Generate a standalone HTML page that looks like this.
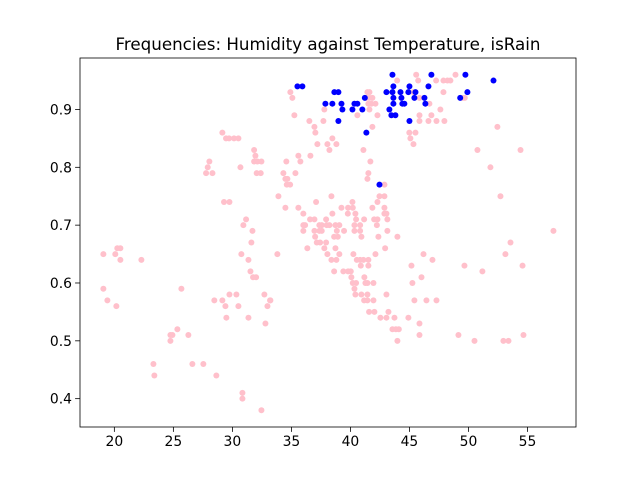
<!DOCTYPE html>
<html><head><meta charset="utf-8"><style>
html,body{margin:0;padding:0;background:#fff;}
svg{display:block;font-family:"DejaVu Sans","Liberation Sans",sans-serif;}
</style></head>
<body>
<svg id="chart" width="640" height="480" viewBox="0 0 640 480">
<rect width="640" height="480" fill="#fff"/>
<text x="328" y="50" font-size="16.7" text-anchor="middle" fill="#000">Frequencies: Humidity against Temperature, isRain</text>
<g id="marks"></g>
<g id="axes"></g>
</svg>
<script>
const pinkX=[29.15,29.46,29.72,30.14,30.51,31.84,31.95,31.84,32.12,32.46,28.05,27.91,27.77,28.31,30.68,32.06,32.40,29.29,29.75,31.16,30.93,31.70,31.61,30.76,31.36,19.07,20.08,20.25,20.51,20.51,22.29,19.07,19.41,20.17,25.68,31.53,31.75,32.01,28.47,29.15,29.75,30.34,29.41,30.51,29.49,31.36,32.71,33.22,32.97,32.80,25.34,24.75,24.92,24.75,26.27,23.31,23.39,26.61,27.54,28.64,30.85,30.85,32.46,
33.90,34.49,34.61,34.89,33.81,35.59,36.01,37.09,38.39,36.58,36.95,36.01,36.16,36.01,37.37,37.57,37.99,38.22,38.73,39.06,36.95,37.37,37.57,37.94,38.47,39.24,39.80,40.20,40.17,39.78,40.42,40.48,40.34,40.82,40.34,40.82,41.16,40.93,38.85,39.46,37.01,38.62,38.93,37.15,37.43,37.94,36.35,37.79,38.73,38.05,39.06,38.39,38.81,38.62,39.40,39.80,40.03,40.25,40.54,40.82,41.10,41.52,40.88,41.52,40.08,41.18,40.20,40.48,41.27,41.44,41.95,40.34,40.42,40.93,41.44,41.16,41.44,41.95,43.05,41.58,42.03,43.22,42.54,43.05,43.73,44.91,43.56,43.85,44.10,45.85,45.85,43.98,42.12,42.94,42.37,43.13,43.98,41.86,42.29,42.46,42.88,42.88,42.88,43.05,43.13,42.01,42.29,42.24,42.88,41.44,45.17,46.19,46.95,46.02,45.25,45.42,46.44,47.29,33.19,
45.57,48.90,43.96,45.74,47.26,47.88,48.22,48.47,34.91,35.08,41.44,41.61,45.34,47.88,41.35,41.61,41.86,45.85,49.52,49.69,41.52,41.78,42.12,46.69,37.79,41.61,47.62,35.25,40.59,42.29,45.85,46.86,36.52,37.71,45.85,46.61,47.29,47.96,36.95,41.86,37.03,44.99,45.51,38.47,45.08,37.20,38.05,38.81,45.34,38.22,41.10,50.76,35.59,36.61,34.57,35.76,41.69,34.32,35.34,41.52,34.49,34.66,51.86,
52.45,54.41,52.71,57.2,53.56,53.13,49.66,51.18,54.58,49.15,50.51,52.96,53.39,54.66];
const pinkY=[.86,.85,.85,.85,.85,.83,.82,.81,.81,.81,.81,.80,.79,.79,.80,.79,.79,.74,.74,.71,.70,.69,.67,.65,.64,.65,.65,.66,.66,.64,.64,.59,.57,.56,.59,.62,.61,.61,.57,.57,.58,.58,.56,.56,.54,.54,.58,.57,.56,.53,.52,.51,.51,.50,.51,.46,.44,.46,.46,.44,.41,.40,.38,
.75,.73,.77,.77,.65,.73,.72,.74,.75,.71,.71,.70,.70,.69,.70,.70,.70,.70,.70,.70,.69,.69,.69,.71,.72,.73,.73,.73,.74,.72,.72,.71,.70,.70,.69,.69,.71,.68,.69,.69,.68,.68,.68,.67,.67,.67,.66,.66,.66,.65,.65,.64,.64,.62,.62,.62,.62,.65,.64,.64,.64,.64,.63,.63,.61,.61,.60,.60,.60,.60,.60,.59,.58,.58,.58,.57,.57,.57,.58,.55,.55,.55,.54,.54,.54,.54,.52,.52,.52,.53,.51,.50,.65,.66,.68,.69,.68,.73,.74,.75,.75,.73,.72,.72,.71,.71,.71,.70,.77,.78,.63,.65,.64,.61,.60,.57,.57,.57,.57,
.96,.96,.95,.95,.95,.95,.95,.95,.93,.92,.93,.93,.93,.93,.92,.92,.92,.92,.92,.92,.91,.91,.91,.91,.90,.90,.90,.89,.89,.89,.89,.89,.88,.88,.88,.88,.88,.88,.87,.87,.86,.86,.86,.85,.85,.84,.84,.84,.84,.83,.83,.83,.82,.82,.81,.81,.81,.79,.79,.79,.78,.78,.80,
.87,.83,.75,.69,.67,.65,.63,.62,.63,.51,.50,.50,.50,.51];
const blueX=[43.56,46.86,49.74,35.51,35.93,43.64,45.0,46.61,38.64,38.98,43.05,43.56,44.24,44.91,45.51,49.91,37.88,38.47,39.24,40.34,40.59,41.22,43.64,44.32,45.42,46.27,49.30,43.64,44.40,44.57,46.35,39.32,40.17,41.01,43.30,43.47,43.81,38.98,45.0,41.35,42.46,52.12];
const blueY=[.96,.96,.96,.94,.94,.94,.94,.94,.93,.93,.93,.93,.93,.93,.93,.93,.91,.91,.91,.91,.91,.92,.92,.92,.92,.92,.92,.91,.91,.91,.91,.90,.90,.90,.90,.89,.89,.88,.88,.86,.77,.95];
const xTicks=[20,25,30,35,40,45,50,55];
const yTicks=[0.4,0.5,0.6,0.7,0.8,0.9];

const L=80,R=576,T=58,B=427;
const xMin=17.09,xMax=59.11,yMin=0.351,yMax=0.989;
function sx(v){return L+(v-xMin)/(xMax-xMin)*(R-L);}
function sy(v){return B-(v-yMin)/(yMax-yMin)*(B-T);}
const NS="http://www.w3.org/2000/svg";
const marks=document.getElementById('marks');
const axes=document.getElementById('axes');
function dot(x,y,color,name){
  const c=document.createElementNS(NS,'circle');
  c.setAttribute('cx',sx(x).toFixed(2));
  c.setAttribute('cy',sy(y).toFixed(2));
  c.setAttribute('r','3');
  c.setAttribute('fill',color);
  
  
  marks.appendChild(c);
}
for(let i=0;i<pinkX.length;i++){dot(pinkX[i],pinkY[i],'#ffc0cb','point-no-rain');}
for(let i=0;i<blueX.length;i++){dot(blueX[i],blueY[i],'#0000ff','point-rain');}
const frame=document.createElementNS(NS,'rect');
frame.setAttribute('x',L);frame.setAttribute('y',T);
frame.setAttribute('width',R-L);frame.setAttribute('height',B-T);
frame.setAttribute('fill','none');frame.setAttribute('stroke','#000');frame.setAttribute('stroke-width','0.8');


axes.appendChild(frame);
xTicks.forEach(t=>{
  const x=sx(t);
  const ln=document.createElementNS(NS,'line');
  ln.setAttribute('x1',x);ln.setAttribute('x2',x);ln.setAttribute('y1',B);ln.setAttribute('y2',B+4.9);
  ln.setAttribute('stroke','#000');ln.setAttribute('stroke-width','0.8');
  
  
  axes.appendChild(ln);
  const tx=document.createElementNS(NS,'text');
  tx.setAttribute('x',x);tx.setAttribute('y',B+19);
  tx.setAttribute('font-size','13.9');tx.setAttribute('text-anchor','middle');
  tx.textContent=String(t);
  
  
  axes.appendChild(tx);
});
yTicks.forEach(t=>{
  const y=sy(t);
  const ln=document.createElementNS(NS,'line');
  ln.setAttribute('x1',L-4.9);ln.setAttribute('x2',L);ln.setAttribute('y1',y);ln.setAttribute('y2',y);
  ln.setAttribute('stroke','#000');ln.setAttribute('stroke-width','0.8');
  
  
  axes.appendChild(ln);
  const tx=document.createElementNS(NS,'text');
  tx.setAttribute('x',L-8);tx.setAttribute('y',y+5);
  tx.setAttribute('font-size','13.9');tx.setAttribute('text-anchor','end');
  tx.textContent=t.toFixed(1);
  
  
  axes.appendChild(tx);
});
</script>
</body></html>
